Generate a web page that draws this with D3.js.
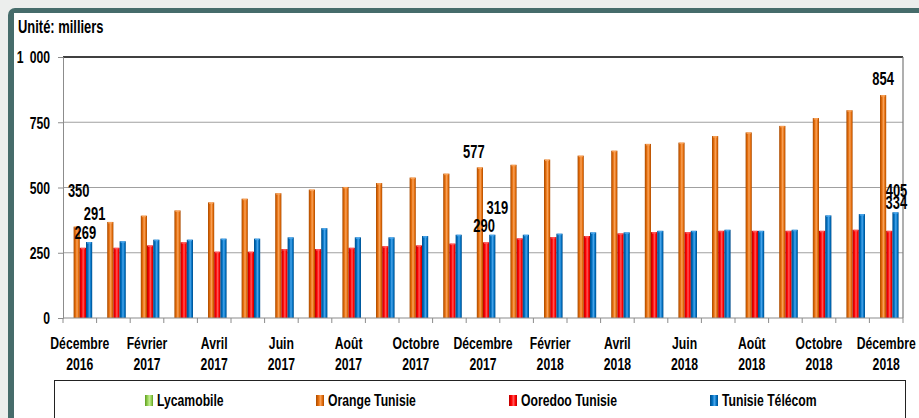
<!DOCTYPE html>
<html>
<head>
<meta charset="utf-8">
<script src="https://cdn.jsdelivr.net/npm/d3@7"></script>
<style>
  body { margin: 0; background: #eceeed; }
  svg { display: block; }
  text { font-family: "Liberation Sans", Arial, sans-serif; font-weight: bold; fill: #000; }
</style>
</head>
<body>
<svg id="chart"></svg>
<script>
// months on the axis (every other one gets a label)
var months = ["Décembre 2016", "Janvier 2017", "Février 2017", "Mars 2017", "Avril 2017", "Mai 2017",
  "Juin 2017", "Juillet 2017", "Août 2017", "Septembre 2017", "Octobre 2017", "Novembre 2017",
  "Décembre 2017", "Janvier 2018", "Février 2018", "Mars 2018", "Avril 2018", "Mai 2018",
  "Juin 2018", "Juillet 2018", "Août 2018", "Septembre 2018", "Octobre 2018", "Novembre 2018", "Décembre 2018"];

var series = ["Lycamobile", "Orange Tunisie", "Ooredoo Tunisie", "Tunisie Télécom"];

var lycamobile = [0, 0, 0, 0, 0, 0, 0, 0, 0, 0, 0, 0, 0, 0, 0, 0, 0, 0, 0, 0, 0, 0, 0, 0, 0];
var orange = [350, 368, 392, 412, 443, 457, 478, 492, 502, 517, 538, 553, 577, 587, 607, 622, 641, 667, 672, 697, 711, 736, 766, 796, 854];
var ooredoo = [269, 269, 278, 290, 254, 254, 264, 264, 269, 275, 278, 285, 290, 305, 310, 314, 324, 329, 329, 334, 334, 334, 334, 338, 334];
var telecom = [291, 294, 300, 300, 304, 304, 309, 344, 309, 309, 314, 319, 319, 319, 323, 328, 328, 334, 334, 338, 334, 338, 393, 398, 405];

var yTicks = [0, 250, 500, 750, 1000];

// which bars carry a value label: [series index, month index]
var labelled = [[1, 0], [2, 0], [3, 0], [1, 12], [2, 12], [3, 12], [1, 24], [2, 24], [3, 24]];

var values = [lycamobile, orange, ooredoo, telecom];
var colors = ["#92d050", "#e46c0a", "#ff0000", "#0070c0"];
var darks = ["#5f9a22", "#a84a00", "#b80000", "#004c8a"];
var lights = ["#c4ec94", "#f9a35a", "#ff5a5a", "#4aa6ec"];

var W = 919, H = 418;
var SX = 0.74; // horizontal squeeze to imitate the narrow bold face
var svg = d3.select("#chart").attr("width", W).attr("height", H);

// frame
svg.append("rect").attr("x", 8).attr("y", 8).attr("width", W + 20).attr("height", H + 20)
  .attr("rx", 7).attr("fill", "#466c6b");
svg.append("rect").attr("x", 14).attr("y", 13).attr("width", W).attr("height", H).attr("fill", "#fff");

var x0 = 63, x1 = 903, yBottom = 318, yTop = 57;

var x = d3.scaleBand().domain(d3.range(months.length)).range([x0, x1]).paddingInner(0).paddingOuter(0);
var xs = d3.scaleBand().domain(d3.range(series.length)).range([0, x.bandwidth()]).paddingInner(0).paddingOuter(0.71);
var y = d3.scaleLinear().domain([0, 1000]).range([yBottom, yTop]);

// gradients
var defs = svg.append("defs");
series.forEach(function(s, i) {
  var g = defs.append("linearGradient").attr("id", "g" + i).attr("x1", "0").attr("x2", "1").attr("y1", "0").attr("y2", "0");
  g.append("stop").attr("offset", "0").attr("stop-color", darks[i]);
  g.append("stop").attr("offset", "0.3").attr("stop-color", colors[i]);
  g.append("stop").attr("offset", "0.55").attr("stop-color", lights[i]);
  g.append("stop").attr("offset", "0.8").attr("stop-color", colors[i]);
  g.append("stop").attr("offset", "1").attr("stop-color", darks[i]);
});

// gridlines
svg.append("g").selectAll("line").data(yTicks.slice(1, 4)).join("line")
  .attr("x1", x0).attr("x2", x1).attr("y1", function(d) { return y(d); }).attr("y2", function(d) { return y(d); })
  .attr("stroke", "#a0a0a0").attr("stroke-width", 1.2);

// plot border top/right
svg.append("line").attr("x1", x0).attr("x2", x1).attr("y1", yTop).attr("y2", yTop).attr("stroke", "#000").attr("stroke-width", 1.5);
svg.append("line").attr("x1", x1).attr("x2", x1).attr("y1", yTop).attr("y2", yBottom).attr("stroke", "#7a7a7a").attr("stroke-width", 1.2);

// y axis
var yAxis = d3.axisLeft(y).tickValues(yTicks).tickSize(5).tickPadding(8)
  .tickFormat(function(d) { return d === 1000 ? "1\u2002000" : d; });
var ga = svg.append("g").attr("transform", "translate(" + x0 + ",0)").call(yAxis);
ga.select(".domain").attr("stroke", "#8c8c8c");
ga.selectAll("line").attr("stroke", "#8c8c8c");
ga.selectAll("text").style("font-size", "16.5px").attr("fill", "#000").style("font-family", null).attr("dy", "0.36em");

// bars
var bars = svg.append("g");
series.forEach(function(s, i) {
  bars.append("g").selectAll("rect").data(values[i]).join("rect")
    .attr("x", function(d, j) { return x(j) + xs(i); })
    .attr("y", function(d) { return y(d); })
    .attr("width", xs.bandwidth())
    .attr("height", function(d) { return y(0) - y(d); })
    .attr("fill", "url(#g" + i + ")");
  bars.append("g").selectAll("rect").data(values[i]).join("rect")
    .attr("x", function(d, j) { return x(j) + xs(i) + 1; })
    .attr("y", function(d) { return y(d); })
    .attr("width", xs.bandwidth() - 2).attr("height", 1.5)
    .attr("fill", lights[i]).attr("opacity", function(d) { return d > 0 ? 0.9 : 0; });
});

// x axis
svg.append("line").attr("x1", x0).attr("x2", x1).attr("y1", yBottom).attr("y2", yBottom).attr("stroke", "#8c8c8c").attr("stroke-width", 1.2);
svg.append("g").selectAll("line").data(d3.range(months.length + 1)).join("line")
  .attr("x1", function(d) { return x0 + d * x.step(); }).attr("x2", function(d) { return x0 + d * x.step(); })
  .attr("y1", yBottom).attr("y2", yBottom + 5).attr("stroke", "#8c8c8c");

var shown = months.map(function(m, i) { return { m: m, i: i }; }).filter(function(d) { return d.i % 2 === 0; });
var xl = svg.append("g").selectAll("text").data(shown).join("text")
  .attr("text-anchor", "middle").style("font-size", "16.5px");
xl.append("tspan").attr("x", function(d) { return x(d.i) + x.bandwidth() / 2; }).attr("y", 349)
  .text(function(d) { return d.m.split(" ")[0]; });
xl.append("tspan").attr("x", function(d) { return x(d.i) + x.bandwidth() / 2; }).attr("y", 370)
  .text(function(d) { return d.m.split(" ")[1]; });

// value labels (offsets as placed in the original)
var labelOffsets = [[2, -30], [2.5, -9], [5.5, -22], [-6, -9], [-2, -10], [5, -21], [0, -10], [7, -22], [1, -15]];
svg.append("g").selectAll("text").data(labelled).join("text")
  .attr("x", function(d, k) { return x(d[1]) + xs(d[0]) + xs.bandwidth() / 2 + labelOffsets[k][0]; })
  .attr("y", function(d, k) { return y(values[d[0]][d[1]]) + labelOffsets[k][1]; })
  .attr("text-anchor", "middle").style("font-size", "17.5px")
  .text(function(d) { return values[d[0]][d[1]]; });

// title
svg.append("text").attr("x", 18).attr("y", 33).style("font-size", "17.5px").text("Unité: milliers");

// legend
svg.append("rect").attr("x", 54.5).attr("y", 380.5).attr("width", 851).attr("height", 60)
  .attr("fill", "#fff").attr("stroke", "#222").attr("stroke-width", 1);
var legendX = [145, 316, 509, 710];
var lg = svg.append("g").selectAll("g").data(series).join("g")
  .attr("transform", function(d, i) { return "translate(" + legendX[i] + ",395)"; });
lg.append("rect").attr("width", 8).attr("height", 11).attr("fill", function(d, i) { return "url(#g" + i + ")"; });
lg.append("text").attr("x", 12).attr("y", 11).style("font-size", "16.5px").text(function(d) { return d; });

// squeeze every text horizontally, keeping its anchor point in place
svg.selectAll("text").each(function() {
  var t = d3.select(this);
  if (t.attr("x") !== null) t.attr("x", +t.attr("x") / SX);
  t.selectAll("tspan").each(function() {
    var s = d3.select(this);
    if (s.attr("x") !== null) s.attr("x", +s.attr("x") / SX);
  });
  t.attr("transform", "scale(" + SX + ",1)");
});
</script>
</body>
</html>
